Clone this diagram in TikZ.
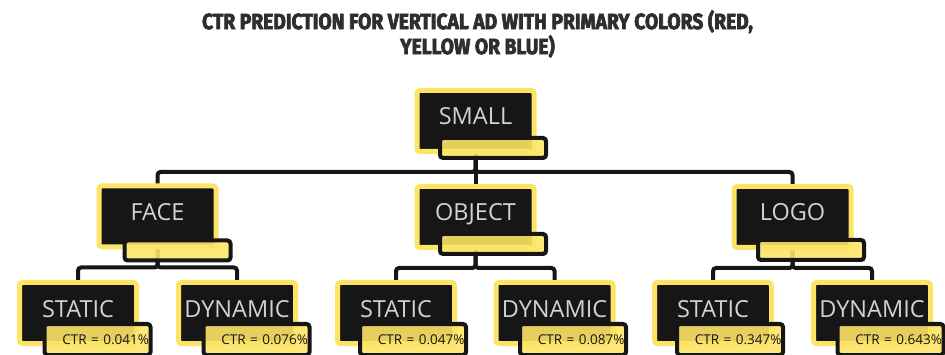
\documentclass[tikz,border=0pt]{standalone}
\usepackage{fontspec}
\setmainfont{Open Sans}
\newfontfamily\titlefont[FakeStretch=0.875,FakeBold=3]{Fira Sans}
\definecolor{boxblack}{HTML}{161616}
\definecolor{boxyellow}{HTML}{FDE467}
\definecolor{labelgray}{HTML}{D2D2D2}
\definecolor{titlegray}{HTML}{2E2E2E}

\begin{document}
\begin{tikzpicture}[x=1pt,y=-1pt,
    catbox/.style={draw=boxyellow,fill=boxblack,line width=5pt,rounded corners=3pt,
      minimum width=117pt,minimum height=61pt,text=labelgray,
      font=\fontsize{23.5}{24}\selectfont,text height=8pt,text depth=0pt},
    tagbox/.style={draw=boxblack,fill=boxyellow,fill opacity=0.9,text opacity=1,
      line width=4pt,rounded corners=3pt,minimum width=106pt,minimum height=20pt},
    ctrtag/.style={tagbox,minimum height=31pt,text width=103pt,inner xsep=1.5pt,align=right,
      font=\fontsize{13.5}{14}\selectfont,text=boxblack,text height=9.6pt,text depth=0pt},
    link/.style={draw=boxblack,line width=4pt,rounded corners=3pt}]
  \useasboundingbox (0,0) rectangle (945,355);
  \clip (0,0) rectangle (945,355);

  \node[anchor=north,inner sep=0pt,align=center,text=titlegray,
    font=\titlefont\bfseries\fontsize{22}{25}\selectfont] (title) at (477.5,10)
    {CTR PREDICTION FOR VERTICAL AD WITH PRIMARY COLORS (RED,\\YELLOW OR BLUE)};

  % tree boxes
  \node[catbox] (small) at (475.5,121) {SMALL};
  \node[catbox] (face) at (157.5,216.5) {FACE};
  \node[catbox] (object) at (475.5,217) {OBJECT};
  \node[catbox] (logo) at (792.5,217) {LOGO};
  \node[catbox] (faces) at (78,313) {STATIC};
  \node[catbox] (faced) at (237,313) {DYNAMIC};
  \node[catbox] (objects) at (396,313) {STATIC};
  \node[catbox] (objectd) at (554.5,313) {DYNAMIC};
  \node[catbox] (logos) at (713,313) {STATIC};
  \node[catbox] (logod) at (872,313) {DYNAMIC};

  % branches
  \draw[link] (small.south) -- ++(0,18) -| (face.north);
  \draw[link] (small.south) -- ++(0,18) -| (logo.north);
  \draw[link] (small.south) -- (object.north);
  \foreach \p/\a/\b in {face/faces/faced,object/objects/objectd,logo/logos/logod} {
    \draw[link] (\p.south) -- ++(0,18) -| (\a.north);
    \draw[link] (\p.south) -- ++(0,18) -| (\b.north);
  }

  % yellow tags
  \node[tagbox] (smallt) at (493,148) {};
  \node[tagbox] (facet) at (177.5,250.5) {};
  \node[tagbox] (objectt) at (493,244) {};
  \node[tagbox] (logot) at (811,250) {};
  \node[ctrtag] (facest) at (97.5,339.5) {CTR = 0.041\%};
  \node[ctrtag] (facedt) at (256.5,339.5) {CTR = 0.076\%};
  \node[ctrtag] (objectst) at (413,339.5) {CTR = 0.047\%};
  \node[ctrtag] (objectdt) at (573,339.5) {CTR = 0.087\%};
  \node[ctrtag] (logost) at (730,339.5) {CTR = 0.347\%};
  \node[ctrtag] (logodt) at (890.5,339.5) {CTR = 0.643\%};
\end{tikzpicture}
\end{document}
